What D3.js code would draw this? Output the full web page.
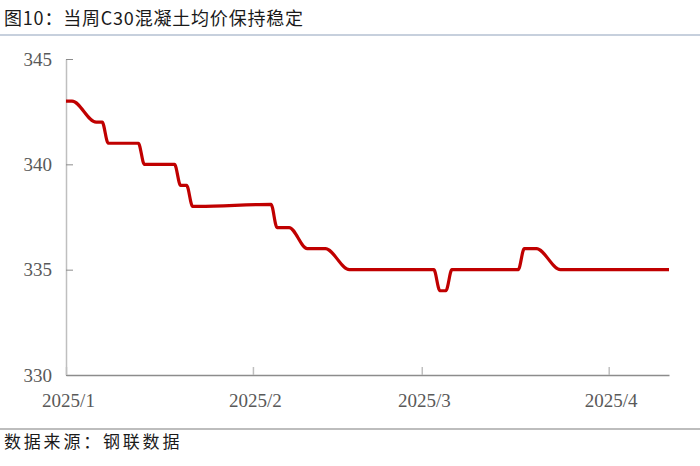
<!DOCTYPE html>
<html>
  <head>
    <meta charset="utf-8" />
    <title>当周C30混凝土均价保持稳定</title>
    <style>
      body { margin: 0; background: #fff; }
      svg { display: block; }
      .title { font-family: "Noto Sans CJK SC", sans-serif; font-size: 18px; fill: #1a1a1a; letter-spacing: 0.8px; }
      .source { font-family: "Noto Sans CJK SC", sans-serif; font-size: 17px; fill: #1a1a1a; letter-spacing: 2.8px; }
      .axis text { font-family: "Liberation Serif", "Times New Roman", serif; font-size: 19px; fill: #595959; }
    </style>
  </head>
  <body>
    <svg width="700" height="466"></svg>
    <script src="https://cdnjs.cloudflare.com/ajax/libs/d3/7.8.5/d3.min.js"></script>
    <script>
// price readings (元/立方米) by date
const dates = [
  '2025-01-01', '2025-01-02', '2025-01-06', '2025-01-07', '2025-01-08', '2025-01-09',
  '2025-01-10', '2025-01-13', '2025-01-14', '2025-01-19', '2025-01-20', '2025-01-21',
  '2025-01-22', '2025-01-23', '2025-02-04', '2025-02-05', '2025-02-06', '2025-02-07',
  '2025-02-10', '2025-02-11', '2025-02-12', '2025-02-13', '2025-02-17', '2025-02-18',
  '2025-02-19', '2025-02-20', '2025-02-21', '2025-02-24', '2025-02-25', '2025-02-26',
  '2025-02-27', '2025-02-28', '2025-03-03', '2025-03-04', '2025-03-05', '2025-03-06',
  '2025-03-07', '2025-03-10', '2025-03-11', '2025-03-12', '2025-03-13', '2025-03-14',
  '2025-03-17', '2025-03-18', '2025-03-19', '2025-03-20', '2025-03-24', '2025-03-25',
  '2025-03-26', '2025-03-27', '2025-03-28', '2025-03-31', '2025-04-01', '2025-04-02',
  '2025-04-03', '2025-04-07', '2025-04-08', '2025-04-09', '2025-04-10', '2025-04-11'
];
const prices = [
  343, 343, 342, 342, 341, 341,
  341, 341, 340, 340, 339, 339,
  338, 338, 338.1, 337, 337, 337,
  336, 336, 336, 336, 335, 335,
  335, 335, 335, 335, 335, 335,
  335, 335, 335, 334, 334, 335,
  335, 335, 335, 335, 335, 335,
  335, 336, 336, 336, 335, 335,
  335, 335, 335, 335, 335, 335,
  335, 335, 335, 335, 335, 335
];
const yTicks = [330, 335, 340, 345];
const titleText = '图10：当周C30混凝土均价保持稳定';
const sourceText = '数据来源：钢联数据';

const parse = d3.timeParse('%Y-%m-%d');
const data = dates.map((d, i) => ({ date: parse(d), value: prices[i] }));

const svg = d3.select('svg');
svg.append('rect').attr('width', 700).attr('height', 466).attr('fill', '#fff');

// header + footer
svg.append('text').attr('class', 'title').attr('x', 4).attr('y', 25).text(titleText);
svg.append('line').attr('x1', 0).attr('x2', 700).attr('y1', 35).attr('y2', 35)
  .attr('stroke', '#b4c0d2').attr('stroke-width', 1.5);
svg.append('line').attr('x1', 0).attr('x2', 700).attr('y1', 429).attr('y2', 429)
  .attr('stroke', '#bdbdbd').attr('stroke-width', 2);
svg.append('text').attr('class', 'source').attr('x', 4).attr('y', 448).text(sourceText);

const x = d3.scaleTime()
  .domain([parse('2025-01-01'), parse('2025-04-11')])
  .range([66, 669]);
const y = d3.scaleLinear().domain([330, 345]).range([375, 59]);

const yAxis = svg.append('g')
  .attr('class', 'axis')
  .attr('transform', 'translate(66,0)')
  .call(d3.axisLeft(y).tickValues(yTicks).tickFormat(d3.format('d'))
    .tickSize(-7).tickSizeOuter(0).tickPadding(14));
yAxis.select('.domain').attr('stroke', '#bfbfbf').attr('stroke-width', 1.5);
yAxis.selectAll('.tick line').attr('stroke', '#8c8c8c');

const xAxis = svg.append('g')
  .attr('class', 'axis')
  .attr('transform', 'translate(0,375)')
  .call(d3.axisBottom(x).ticks(d3.timeMonth.every(1)).tickFormat(d3.timeFormat('%Y/%-m'))
    .tickSize(-8).tickSizeOuter(0).tickPadding(19));
xAxis.select('.domain').attr('stroke', '#8c8c8c').attr('stroke-width', 1.3);
xAxis.selectAll('.tick line').attr('stroke', '#bfbfbf').attr('stroke-width', 1.5);
xAxis.selectAll('.tick text').attr('dx', 2);

const line = d3.line()
  .x(d => x(d.date))
  .y(d => y(d.value))
  .curve(d3.curveMonotoneX);

svg.append('path')
  .datum(data)
  .attr('fill', 'none')
  .attr('stroke', '#c00000')
  .attr('stroke-width', 3.2)
  .attr('stroke-linejoin', 'round')
  .attr('d', line);
    </script>
  </body>
</html>
